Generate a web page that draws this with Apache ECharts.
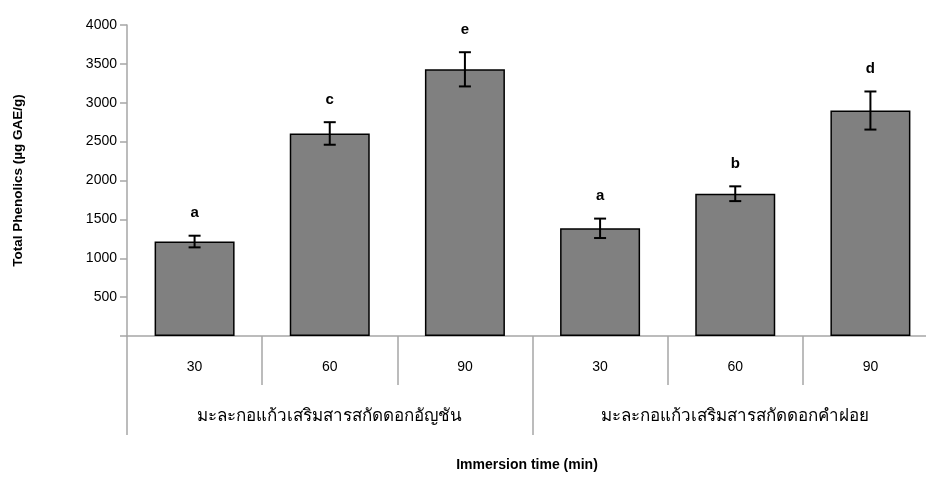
<!DOCTYPE html>
<html>
<head>
<meta charset="utf-8">
<script src="https://cdn.jsdelivr.net/npm/echarts@6/dist/echarts.min.js"></script>
<style>
  html, body { margin: 0; padding: 0; background: #fff; }
  #chart { width: 926px; height: 483px; }
</style>
</head>
<body>
<div id="chart"></div>
<script>
const times = ["30", "60", "90", "30", "60", "90"];
const groups = ["มะละกอแก้วเสริมสารสกัดดอกอัญชัน", "มะละกอแก้วเสริมสารสกัดดอกคำฝอย"];
const phenolics = [1215, 2605, 3430, 1385, 1830, 2900];
const errors = [75, 145, 220, 125, 95, 245];
const letters = ["a", "c", "e", "a", "b", "d"];
const yTicks = [0, 500, 1000, 1500, 2000, 2500, 3000, 3500, 4000];

const axisGray = "#a6a6a6";
const font = "'Liberation Sans', Arial, sans-serif";

const chart = echarts.init(document.getElementById("chart"), null, { renderer: "canvas" });

// plot area runs past the right edge of the picture, as in the original
chart.setOption({
  animation: false,
  grid: { left: 127, right: -12, top: 25, bottom: 147, outerBoundsMode: "none", containLabel: false },
  xAxis: [
    {
      type: "category",
      data: times,
      position: "bottom",
      axisLine: { show: true, lineStyle: { color: axisGray, width: 1.5 } },
      axisTick: { show: true, interval: 0, length: 49, lineStyle: { color: axisGray, width: 1.5 } },
      axisLabel: { interval: 0, margin: 24, color: "#000", fontSize: 14, fontFamily: font }
    },
    {
      type: "category",
      data: groups,
      position: "bottom",
      axisLine: { show: false },
      axisTick: { show: true, interval: 0, length: 99, lineStyle: { color: axisGray, width: 1.5 } },
      axisLabel: { interval: 0, margin: 72, color: "#000", fontSize: 17, fontFamily: "'Noto Sans', sans-serif" },
      name: "Immersion time (min)",
      nameLocation: "middle",
      nameGap: 122,
      nameTextStyle: { color: "#000", fontSize: 14, fontWeight: "bold", fontFamily: font, padding: [0, 11, 0, 0] }
    }
  ],
  yAxis: {
    type: "value",
    min: yTicks[0],
    max: yTicks[yTicks.length - 1],
    interval: yTicks[1] - yTicks[0],
    splitLine: { show: false },
    axisLine: { show: true, lineStyle: { color: axisGray, width: 1.5 } },
    axisTick: { show: true, length: 7, lineStyle: { color: axisGray, width: 1.5 } },
    axisLabel: {
      color: "#000", fontSize: 14, fontFamily: font, margin: 10,
      formatter: v => (v === 0 ? "" : String(v))
    },
    name: "Total Phenolics (µg GAE/g)",
    nameLocation: "middle",
    nameGap: 102,
    nameTextStyle: { color: "#000", fontSize: 13.5, fontWeight: "bold", fontFamily: font }
  },
  series: [
    {
      type: "bar",
      data: phenolics,
      barWidth: 80,
      itemStyle: { color: "#808080", borderColor: "#000", borderWidth: 1.5 }
    },
    {
      type: "custom",
      data: phenolics.map((v, i) => [i, v, errors[i]]),
      z: 10,
      renderItem: (params, api) => {
        const i = api.value(0);
        const v = api.value(1);
        const e = api.value(2);
        const top = api.coord([i, v + e]);
        const bot = api.coord([i, v - e]);
        const cap = 6;
        const style = { stroke: "#000", lineWidth: 2 };
        return {
          type: "group",
          children: [
            { type: "line", shape: { x1: top[0], y1: top[1], x2: bot[0], y2: bot[1] }, style },
            { type: "line", shape: { x1: top[0] - cap, y1: top[1], x2: top[0] + cap, y2: top[1] }, style },
            { type: "line", shape: { x1: bot[0] - cap, y1: bot[1], x2: bot[0] + cap, y2: bot[1] }, style },
            {
              type: "text",
              style: {
                x: top[0], y: top[1] - 15,
                text: letters[i],
                fill: "#000",
                font: "bold 15px " + font,
                textAlign: "center",
                textVerticalAlign: "bottom"
              }
            }
          ]
        };
      }
    }
  ]
});
</script>
</body>
</html>
